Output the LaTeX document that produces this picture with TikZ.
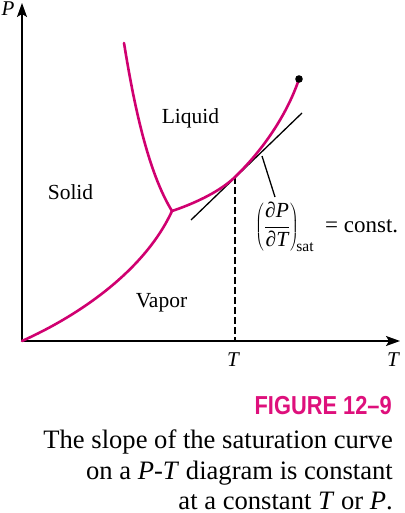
\documentclass[tikz,border=0pt]{standalone}
\usepackage{fontspec}
\setmainfont{Liberation Serif}
\newfontfamily\figfont[FakeStretch=0.84]{Liberation Sans}
\usetikzlibrary{arrows.meta}
\definecolor{curvemag}{RGB}{208,0,112}
\definecolor{figmag}{RGB}{222,16,124}
\begin{document}
\begin{tikzpicture}[x=1pt,y=-1pt,
  axisline/.style={line width=1.5pt,-{Stealth[length=14pt,width=10pt,inset=3pt]}},
  phaseline/.style={curvemag,line width=2.6pt,line cap=round},
  thinline/.style={black,line width=1.3pt},
  dashline/.style={black,line width=1.3pt,dash pattern=on 6.5pt off 3.5pt},
  lbl/.style={inner sep=0pt,anchor=base,font=\fontsize{21.5}{24}\selectfont},
  axlbl/.style={inner sep=0pt,anchor=base,font=\fontsize{21}{24}\selectfont\itshape},
  capline/.style={inner sep=0pt,anchor=base east,font=\fontsize{26.6}{31}\selectfont},
]
\useasboundingbox (0,0) rectangle (404,513);
% key points
\coordinate (O) at (22,341);
\coordinate (Ptip) at (22,3);
\coordinate (Ttip) at (400,341);
\coordinate (TP) at (172,211);
\coordinate (TanPt) at (235,177);
\coordinate (Tfoot) at (235,341);
\coordinate (CP) at (299,79);
\coordinate (FusTop) at (124,43);
\coordinate (TanA) at (191,220);
\coordinate (TanB) at (302,113);
\coordinate (LeadA) at (262,156);
\coordinate (LeadB) at (275,197);
% axes
\draw[axisline] (O) -- (Ptip);
\draw[axisline] (O) -- (Ttip);
% dashed line and tangent
\draw[dashline] (TanPt) -- (Tfoot);
\draw[thinline] (TanA) -- (TanB);
\draw[thinline] (LeadA) -- (LeadB);
% phase lines
\draw[phaseline] (O) .. controls (80,315) and (145,270) .. (TP);
\draw[phaseline] (FusTop) .. controls (134,105) and (148,172) .. (TP);
\draw[phaseline] (TP) .. controls (190,205) and (218,193.4) .. (TanPt)
   .. controls (265,148) and (288,112) .. (CP);
\fill (CP) circle (3.8pt);
% labels
\node[axlbl] (Plbl) at (8,16) {P};
\node[axlbl] (Tlbl) at (393,366) {T};
\node[axlbl] (Ttick) at (233,366) {T};
\node[lbl] (liq) at (190.5,124) {Liquid};
\node[lbl] (sol) at (70.5,199) {Solid};
\node[lbl] (vap) at (161.5,307) {Vapor};
\node[inner sep=0pt,anchor=base west,font=\fontsize{21.5}{24}\selectfont] (deriv) at (255,232)
  {$\displaystyle\left(\frac{\hbox{\itshape ∂P}}{\hbox{\itshape ∂T}}\right)_{\!\hbox{\fontsize{15.5}{16}\selectfont sat}}$\hspace{11pt}{\fontsize{23}{24}\selectfont= const.}};
% caption
\node[inner sep=0pt,anchor=base east,text=figmag,font=\figfont\bfseries\fontsize{26}{30}\selectfont] (fig) at (392,414) {FIGURE 12–9};
\node[capline] (c1) at (393,448) {The slope of the saturation curve};
\node[capline] (c2) at (393,479) {on a \textit{P}-\textit{T} diagram is constant};
\node[capline] (c3) at (393,509) {at a constant \textit{T} or \textit{P}.};
\end{tikzpicture}
\end{document}
